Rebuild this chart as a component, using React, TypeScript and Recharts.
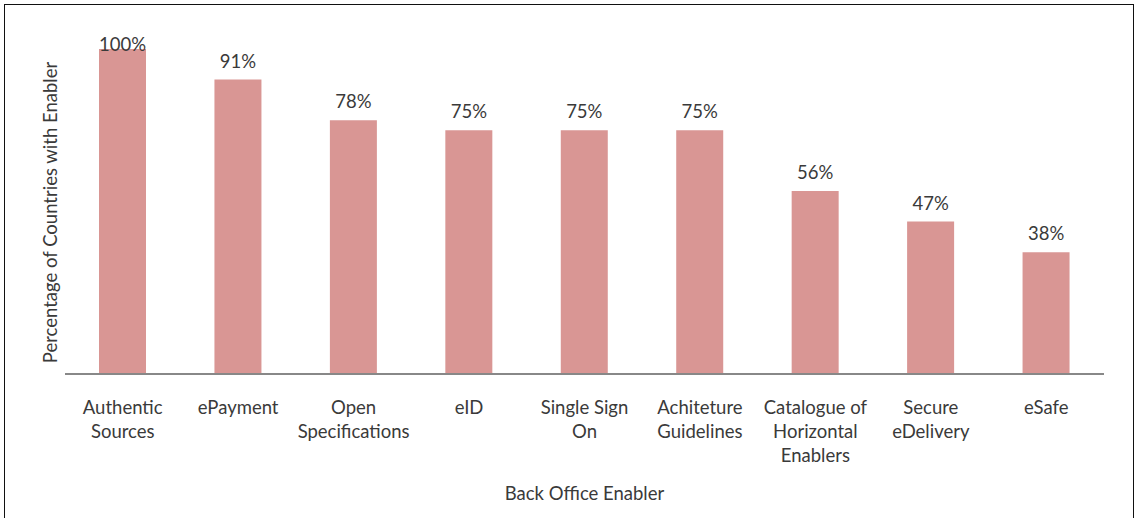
import { BarChart, Bar, XAxis, YAxis, LabelList } from "recharts";

const categories = [
  "Authentic Sources",
  "ePayment",
  "Open Specifications",
  "eID",
  "Single Sign On",
  "Achiteture Guidelines",
  "Catalogue of Horizontal Enablers",
  "Secure eDelivery",
  "eSafe",
];

// how each category label wraps under the axis
const tickLines = [
  ["Authentic", "Sources"],
  ["ePayment"],
  ["Open", "Specifications"],
  ["eID"],
  ["Single Sign", "On"],
  ["Achiteture", "Guidelines"],
  ["Catalogue of", "Horizontal", "Enablers"],
  ["Secure", "eDelivery"],
  ["eSafe"],
];

// bar heights (labels are rounded)
const percentages = [100, 90.6, 78.1, 75, 75, 75, 56.3, 46.9, 37.5];

const data = categories.map((name, i) => ({ name, value: percentages[i] }));

const FONT = "Lato, 'Open Sans', sans-serif";
const TEXT = "#3a3a3a";
const FS = 18.5;

function CategoryTick(props: any) {
  const { x, y, index } = props;
  const lines = tickLines[index] ?? [];
  return (
    <g>
      {lines.map((l: string, i: number) => (
        <text
          key={i}
          x={x}
          y={y + 40 + i * 24}
          textAnchor="middle"
          fontSize={FS}
          fontFamily={FONT}
          fill={TEXT}
        >
          {l}
        </text>
      ))}
    </g>
  );
}

function ValueLabel(props: any) {
  const { x, y, width, value } = props;
  // top label gets pushed down to stay inside the plot, like in Excel
  const base = Math.max(y - 12, 51);
  return (
    <text
      x={x + width / 2}
      y={base}
      textAnchor="middle"
      fontSize={FS}
      fontFamily={FONT}
      fill={TEXT}
    >
      {Math.round(value)}%
    </text>
  );
}

function YTitle(props: any) {
  const { viewBox } = props;
  const cx = 50;
  const cy = viewBox.y + viewBox.height / 2 + 1;
  return (
    <text
      x={cx}
      y={cy}
      transform={`rotate(-90, ${cx}, ${cy})`}
      textAnchor="middle"
      dominantBaseline="central"
      fontSize={FS}
      fontFamily={FONT}
      fill={TEXT}
    >
      Percentage of Countries with Enabler
    </text>
  );
}

export default function App() {
  return (
    <div
      style={{
        position: "fixed",
        left: 0,
        top: 0,
        width: 1138,
        height: 518,
        background: "#fff",
        overflow: "hidden",
      }}
    >
      <div style={{ position: "absolute", left: 0, top: 0 }}>
        <BarChart
          width={1138}
          height={518}
          data={data}
          margin={{ top: 49, right: 34, bottom: 0, left: 0 }}
        >
          <YAxis
            width={65}
            domain={[0, 100]}
            axisLine={false}
            tickLine={false}
            tick={false}
            label={<YTitle />}
          />
          <XAxis
            dataKey="name"
            height={144}
            interval={0}
            tickLine={false}
            tickSize={0}
            tickMargin={0}
            stroke="#888"
            strokeWidth={2}
            tick={<CategoryTick />}
            label={{
              value: "Back Office Enabler",
              position: "insideBottom",
              offset: 18,
              fontSize: FS,
              fontFamily: FONT,
              fill: TEXT,
            }}
          />
          <Bar dataKey="value" fill="#d99694" barSize={47} isAnimationActive={false}>
            <LabelList dataKey="value" content={<ValueLabel />} />
          </Bar>
        </BarChart>
      </div>
      <div
        style={{
          position: "absolute",
          left: 4,
          top: 4,
          right: 4,
          bottom: -4,
          border: "1px solid #111",
          pointerEvents: "none",
          zIndex: 2,
        }}
      />
    </div>
  );
}
